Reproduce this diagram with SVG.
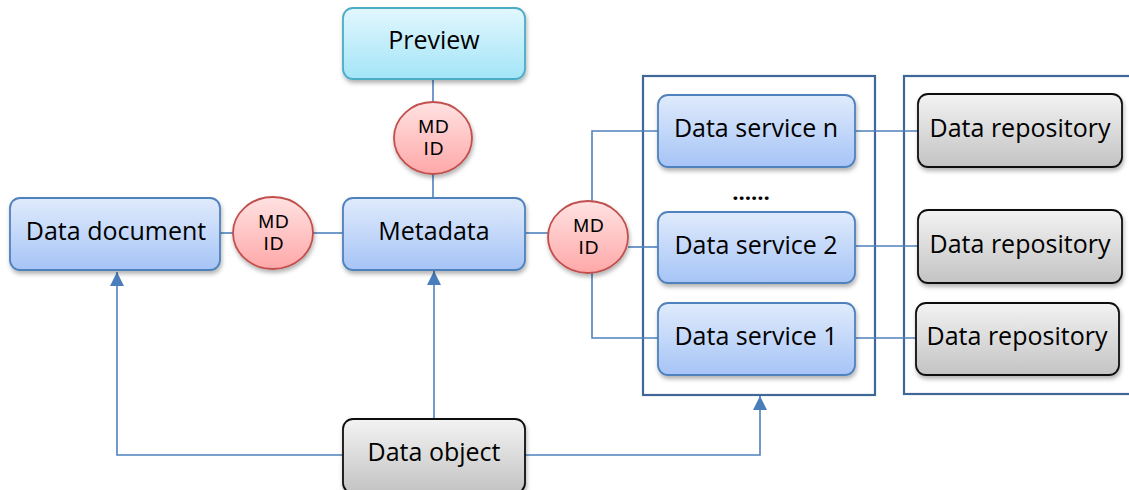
<svg xmlns="http://www.w3.org/2000/svg" width="1129" height="490" viewBox="0 0 1129 490">
  <defs>
    <linearGradient id="gBlue" x1="0" y1="0" x2="0" y2="1">
      <stop offset="0" stop-color="#e0ebfc"/>
      <stop offset="1" stop-color="#a6c4f6"/>
    </linearGradient>
    <linearGradient id="gCyan" x1="0" y1="0" x2="0" y2="1">
      <stop offset="0" stop-color="#e2f7fd"/>
      <stop offset="1" stop-color="#a3e5f8"/>
    </linearGradient>
    <linearGradient id="gRed" x1="0" y1="0" x2="0" y2="1">
      <stop offset="0" stop-color="#ffe2e2"/>
      <stop offset="1" stop-color="#ffa8a8"/>
    </linearGradient>
    <linearGradient id="gGray" x1="0" y1="0" x2="0" y2="1">
      <stop offset="0" stop-color="#f3f3f3"/>
      <stop offset="1" stop-color="#c3c3c3"/>
    </linearGradient>
    <filter id="shadow" x="-10%" y="-10%" width="125%" height="135%">
      <feDropShadow dx="1" dy="3" stdDeviation="2" flood-color="#000" flood-opacity="0.3"/>
    </filter>
    <marker id="arrow" markerUnits="userSpaceOnUse" markerWidth="14" markerHeight="16" refX="14" refY="7" orient="auto">
      <path d="M0,0 L14,7 L0,14 Z" fill="#4a7ebb"/>
    </marker>
  </defs>
  <style>
    .lbl { font-family: "Open Sans", "Noto Sans", sans-serif; font-size: 25px; fill: #000; text-anchor: middle; }
    .md { font-family: "Liberation Sans", Arial, sans-serif; font-size: 19px; letter-spacing: 1px; fill: #000; text-anchor: middle; }
    .dots { font-family: "Open Sans", "Noto Sans", sans-serif; font-size: 22px; font-weight: bold; fill: #000; text-anchor: middle; }
    .blue { fill: url(#gBlue); stroke: #4f81bd; stroke-width: 1.8; filter: url(#shadow); }
    .cyan { fill: url(#gCyan); stroke: #4bacc6; stroke-width: 1.8; filter: url(#shadow); }
    .gray { fill: url(#gGray); stroke: #111; stroke-width: 1.8; filter: url(#shadow); }
    .mdid { fill: url(#gRed); stroke: #c0504d; stroke-width: 1.8; filter: url(#shadow); }
    .frame { fill: none; stroke: #3f6797; stroke-width: 2.2; }
    .wire { fill: none; stroke: #4f81bd; stroke-width: 1.6; }
  </style>

  <!-- group frames for services and repositories -->
  <rect id="serviceFrame" class="frame" x="643" y="76" width="232" height="319"/>
  <rect id="repositoryFrame" class="frame" x="904" y="76" width="240" height="318"/>

  <g id="connectors">
    <line class="wire" x1="433" y1="79" x2="433" y2="102"/>
    <line class="wire" x1="433" y1="174" x2="433" y2="198"/>
    <line class="wire" x1="220" y1="233" x2="233" y2="233"/>
    <line class="wire" x1="313" y1="233" x2="343" y2="233"/>
    <line class="wire" x1="525" y1="233" x2="548" y2="233"/>
    <polyline class="wire" points="592,201 592,131 658,131"/>
    <line class="wire" x1="628" y1="247" x2="658" y2="247"/>
    <polyline class="wire" points="592,272 592,338 658,338"/>
    <line class="wire" x1="855" y1="131" x2="918" y2="131"/>
    <line class="wire" x1="855" y1="246" x2="918" y2="246"/>
    <line class="wire" x1="855" y1="338" x2="916" y2="338"/>
    <polyline class="wire" points="343,455 117,455 117,272" marker-end="url(#arrow)"/>
    <line class="wire" x1="434" y1="419" x2="434" y2="271" marker-end="url(#arrow)"/>
    <polyline class="wire" points="525,455 760,455 760,396" marker-end="url(#arrow)"/>
  </g>

  <g id="preview">
    <rect class="cyan" x="343" y="8" width="182" height="71" rx="10"/>
    <text class="lbl" x="434" y="49">Preview</text>
  </g>

  <g id="mdidTop">
    <ellipse class="mdid" cx="433" cy="138" rx="39" ry="36"/>
    <text class="md" x="434" y="133">MD<tspan x="434" dy="22">ID</tspan></text>
  </g>

  <g id="dataDocument">
    <rect class="blue" x="10" y="198" width="210" height="72" rx="10"/>
    <text class="lbl" x="116" y="240">Data document</text>
  </g>

  <g id="mdidLeft">
    <ellipse class="mdid" cx="273" cy="233" rx="40" ry="36"/>
    <text class="md" x="274" y="228">MD<tspan x="274" dy="22">ID</tspan></text>
  </g>

  <g id="metadata">
    <rect class="blue" x="343" y="198" width="182" height="72" rx="10"/>
    <text class="lbl" x="434" y="240">Metadata</text>
  </g>

  <g id="mdidRight">
    <ellipse class="mdid" cx="588" cy="237" rx="40" ry="36"/>
    <text class="md" x="589" y="232">MD<tspan x="589" dy="22">ID</tspan></text>
  </g>

  <g id="serviceN">
    <rect class="blue" x="658" y="95" width="197" height="72" rx="10"/>
    <text class="lbl" x="756" y="137">Data service n</text>
  </g>

  <g id="serviceEllipsis">
    <text class="dots" x="751" y="200">……</text>
  </g>

  <g id="service2">
    <rect class="blue" x="658" y="212" width="197" height="71" rx="10"/>
    <text class="lbl" x="756" y="254">Data service 2</text>
  </g>

  <g id="service1">
    <rect class="blue" x="658" y="303" width="197" height="72" rx="10"/>
    <text class="lbl" x="756" y="345">Data service 1</text>
  </g>

  <g id="repository1">
    <rect class="gray" x="918" y="94" width="204" height="73" rx="10"/>
    <text class="lbl" x="1020" y="137">Data repository</text>
  </g>

  <g id="repository2">
    <rect class="gray" x="918" y="210" width="204" height="73" rx="10"/>
    <text class="lbl" x="1020" y="253">Data repository</text>
  </g>

  <g id="repository3">
    <rect class="gray" x="916" y="303" width="203" height="72" rx="10"/>
    <text class="lbl" x="1017" y="345">Data repository</text>
  </g>

  <g id="dataObject">
    <rect class="gray" x="343" y="419" width="182" height="74" rx="10"/>
    <text class="lbl" x="434" y="461">Data object</text>
  </g>
</svg>
